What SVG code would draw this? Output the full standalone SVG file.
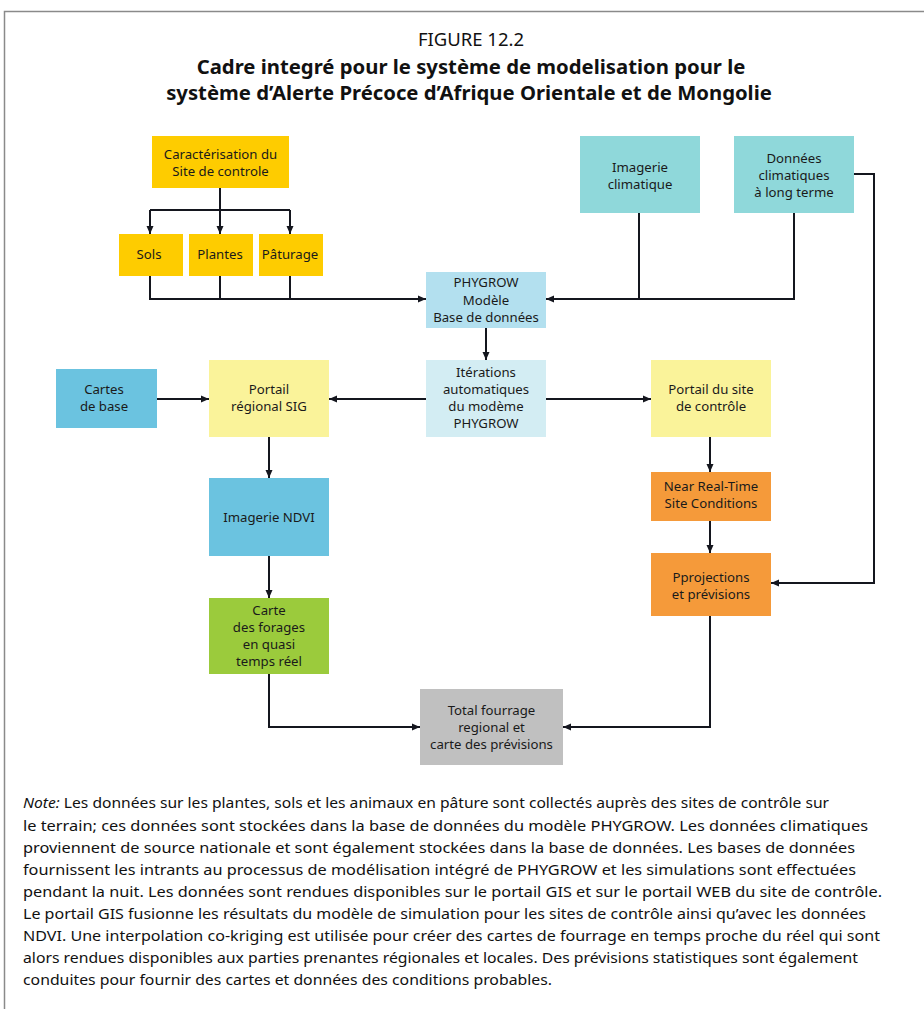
<svg xmlns="http://www.w3.org/2000/svg" width="924" height="1009" viewBox="0 0 924 1009">
<style>
.t{font-family:"Noto Sans","Open Sans","DejaVu Sans",sans-serif;font-size:13.2px;fill:#1a1a1a;text-anchor:middle}
.ti{font-family:"Noto Sans","Open Sans","DejaVu Sans",sans-serif;fill:#111;text-anchor:middle}
.n{font-family:"Noto Sans","Open Sans","DejaVu Sans",sans-serif;font-size:14px;fill:#111}
.c{fill:none;stroke:#14161e;stroke-width:2}
.a{marker-end:url(#ah)}
.gold{fill:#FECC00}.pb{fill:#B3E0EF}.teal{fill:#8FD8DA}.lb{fill:#D3EDF3}.yel{fill:#FAF39A}.blue{fill:#6BC3E0}.grn{fill:#9BCB3C}.org{fill:#F59A3A}.gry{fill:#C0C0C0}
</style>
<defs>
<marker id="ah" markerWidth="8" markerHeight="8" refX="8" refY="4" orient="auto" markerUnits="userSpaceOnUse">
<path d="M0,0.5 L8,4 L0,7.5 Z" fill="#14161e"/>
</marker>
</defs>
<rect width="924" height="1009" fill="#fff"/>
<path d="M4.5,1009 V11.5 H924" fill="none" stroke="#8a8a8a" stroke-width="1.5"/>
<g id="title">
<text class="ti" x="471" y="46" font-size="18.5">FIGURE 12.2</text>
<text class="ti" x="471" y="74" font-size="20.3" font-weight="bold">Cadre integré pour le système de modelisation pour le</text>
<text class="ti" x="469" y="100" font-size="20.3" font-weight="bold">système d’Alerte Précoce d’Afrique Orientale et de Mongolie</text>
</g>
<g id="connectors">
<path class="c" d="M220,188 V210 M150,210 H290"/>
<path class="c a" d="M150,210 V234"/>
<path class="c a" d="M220,210 V234"/>
<path class="c a" d="M290,210 V234"/>
<path class="c" d="M150,276 V299 M220,276 V299 M290,276 V299"/>
<path class="c a" d="M149,299 H426"/>
<path class="c" d="M639,213 V299"/>
<path class="c a" d="M794,213 V299 H546"/>
<path class="c a" d="M854,174 H874 V583 H771"/>
<path class="c a" d="M486,328 V360"/>
<path class="c a" d="M157,399 H209"/>
<path class="c a" d="M426,399 H329"/>
<path class="c a" d="M546,399 H651"/>
<path class="c a" d="M269,437 V478"/>
<path class="c a" d="M269,556 V598"/>
<path class="c a" d="M269,674 V727 H420"/>
<path class="c a" d="M710,437 V472"/>
<path class="c a" d="M710,521 V553"/>
<path class="c a" d="M710,616 V727 H563"/>
</g>
<g id="caracterisation"><rect class="gold" x="152" y="136" width="137" height="52"/>
<text class="t" x="220.5" y="159">Caractérisation du</text><text class="t" x="220.5" y="176">Site de controle</text></g>
<g id="sols"><rect class="gold" x="119" y="234" width="64" height="42"/><text class="t" x="149" y="259">Sols</text></g>
<g id="plantes"><rect class="gold" x="189" y="234" width="64" height="42"/><text class="t" x="220" y="259">Plantes</text></g>
<g id="paturage"><rect class="gold" x="259" y="234" width="64" height="42"/><text class="t" x="290" y="259">Pâturage</text></g>
<g id="imagerie-climatique"><rect class="teal" x="580" y="136" width="120" height="77"/>
<text class="t" x="640" y="172">Imagerie</text><text class="t" x="640" y="189">climatique</text></g>
<g id="donnees-climatiques"><rect class="teal" x="734" y="136" width="120" height="77"/>
<text class="t" x="794" y="163">Données</text><text class="t" x="794" y="180">climatiques</text><text class="t" x="794" y="197">à long terme</text></g>
<g id="phygrow"><rect class="pb" x="426" y="272" width="120" height="56"/>
<text class="t" x="486" y="287">PHYGROW</text><text class="t" x="486" y="305">Modèle</text><text class="t" x="486" y="322">Base de données</text></g>
<g id="cartes-de-base"><rect class="blue" x="56" y="369" width="101" height="59"/>
<text class="t" x="104" y="394">Cartes</text><text class="t" x="104" y="411">de base</text></g>
<g id="portail-sig"><rect class="yel" x="209" y="360" width="120" height="77"/>
<text class="t" x="269" y="394">Portail</text><text class="t" x="269" y="411">régional SIG</text></g>
<g id="iterations"><rect class="lb" x="426" y="360" width="120" height="77"/>
<text class="t" x="486" y="377">Itérations</text><text class="t" x="486" y="394">automatiques</text><text class="t" x="486" y="411">du modème</text><text class="t" x="486" y="428">PHYGROW</text></g>
<g id="portail-site"><rect class="yel" x="651" y="360" width="120" height="77"/>
<text class="t" x="711" y="394">Portail du site</text><text class="t" x="711" y="411">de contrôle</text></g>
<g id="near-real-time"><rect class="org" x="651" y="472" width="120" height="49"/>
<text class="t" x="711" y="491">Near Real-Time</text><text class="t" x="711" y="508">Site Conditions</text></g>
<g id="imagerie-ndvi"><rect class="blue" x="209" y="478" width="120" height="78"/>
<text class="t" x="269" y="522">Imagerie NDVI</text></g>
<g id="projections"><rect class="org" x="651" y="553" width="120" height="63"/>
<text class="t" x="711" y="582">Pprojections</text><text class="t" x="711" y="599">et prévisions</text></g>
<g id="carte-forages"><rect class="grn" x="209" y="598" width="120" height="76"/>
<text class="t" x="269" y="615">Carte</text><text class="t" x="269" y="632">des forages</text><text class="t" x="269" y="649">en quasi</text><text class="t" x="269" y="666">temps réel</text></g>
<g id="total"><rect class="gry" x="420" y="689" width="143" height="76"/>
<text class="t" x="491.5" y="715">Total fourrage</text><text class="t" x="491.5" y="732">regional et</text><text class="t" x="491.5" y="749">carte des prévisions</text></g>
<g id="note">
<text class="n" x="23" y="808" textLength="806" lengthAdjust="spacingAndGlyphs"><tspan font-style="italic">Note:</tspan> Les données sur les plantes, sols et les animaux en pâture sont collectés auprès des sites de contrôle sur</text>
<text class="n" x="23" y="831" textLength="845" lengthAdjust="spacingAndGlyphs">le terrain; ces données sont stockées dans la base de données du modèle PHYGROW. Les données climatiques</text>
<text class="n" x="23" y="853" textLength="832" lengthAdjust="spacingAndGlyphs">proviennent de source nationale et sont également stockées dans la base de données. Les bases de données</text>
<text class="n" x="23" y="875" textLength="833" lengthAdjust="spacingAndGlyphs">fournissent les intrants au processus de modélisation intégré de PHYGROW et les simulations sont effectuées</text>
<text class="n" x="23" y="897" textLength="859" lengthAdjust="spacingAndGlyphs">pendant la nuit. Les données sont rendues disponibles sur le portail GIS et sur le portail WEB du site de contrôle.</text>
<text class="n" x="23" y="919" textLength="843" lengthAdjust="spacingAndGlyphs">Le portail GIS fusionne les résultats du modèle de simulation pour les sites de contrôle ainsi qu’avec les données</text>
<text class="n" x="23" y="941" textLength="857" lengthAdjust="spacingAndGlyphs">NDVI. Une interpolation co-kriging est utilisée pour créer des cartes de fourrage en temps proche du réel qui sont</text>
<text class="n" x="23" y="963" textLength="835" lengthAdjust="spacingAndGlyphs">alors rendues disponibles aux parties prenantes régionales et locales. Des prévisions statistiques sont également</text>
<text class="n" x="23" y="985" textLength="529" lengthAdjust="spacingAndGlyphs">conduites pour fournir des cartes et données des conditions probables.</text>
</g>
</svg>
